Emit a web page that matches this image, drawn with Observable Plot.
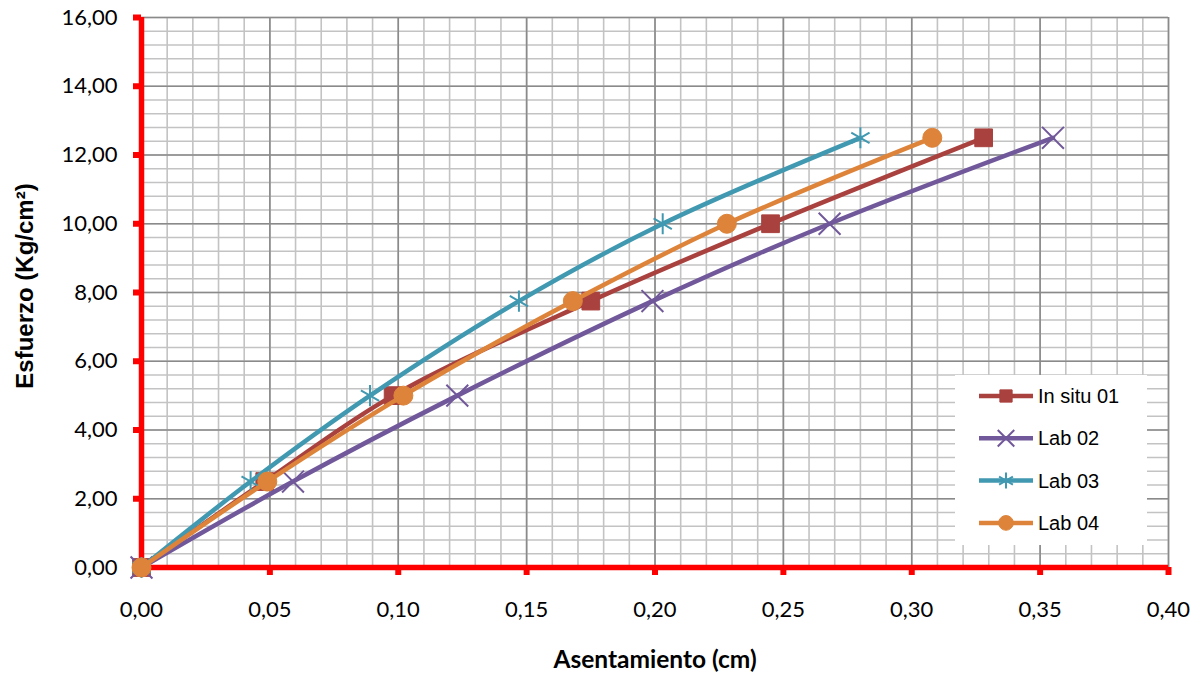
<!DOCTYPE html>
<html>
<head>
<meta charset="utf-8">
<script src="https://cdn.jsdelivr.net/npm/d3@7"></script>
<script src="https://cdn.jsdelivr.net/npm/@observablehq/plot@0.6"></script>
<style>
  html, body { margin: 0; padding: 0; background: #fff; }
  #chart { position: relative; width: 1200px; height: 674px; }
</style>
</head>
<body>
<div id="chart"></div>
<script>
// ---- data ----
const seriesNames = ["In situ 01", "Lab 02", "Lab 03", "Lab 04"];
const esfuerzo = [0, 2.5, 5.0, 7.75, 10.0, 12.5];
const insitu01 = [0, 0.048, 0.098, 0.175, 0.245, 0.328];
const lab02    = [0, 0.059, 0.123, 0.199, 0.268, 0.355];
const lab03    = [0, 0.0425, 0.089, 0.147, 0.203, 0.280];
const lab04    = [0, 0.049, 0.102, 0.168, 0.228, 0.308];
const xTicks = [0, 0.05, 0.10, 0.15, 0.20, 0.25, 0.30, 0.35, 0.40];
const yTicks = [0, 2, 4, 6, 8, 10, 12, 14, 16];
const xMinor = d3.range(0, 41).map(i => i / 100);
const yMinor = d3.range(0, 41).map(i => i * 0.4);
const colors = ["#A9413E", "#71589A", "#4099B0", "#DD843A"];
const symbols = ["square", "times", "asterisk", "circle"];

const seriesX = [insitu01, lab02, lab03, lab04];
const rows = [];
seriesX.forEach((xs, s) => xs.forEach((x, i) => rows.push({serie: seriesNames[s], x, y: esfuerzo[i]})));

const fmt = d => d3.format(".2f")(d).replace(".", ",");

const marks = [
  Plot.ruleX(xMinor, {stroke: "#c3c3c3", strokeWidth: 1.6}),
  Plot.ruleY(yMinor, {stroke: "#c3c3c3", strokeWidth: 1.6}),
  Plot.ruleX(xTicks, {stroke: "#8a8a8a", strokeWidth: 1.6}),
  Plot.ruleY(yTicks, {stroke: "#8a8a8a", strokeWidth: 1.6}),
  Plot.axisY({ticks: yTicks, tickSize: 8, tickPadding: 16, stroke: "red", strokeWidth: 6, fill: "#000", tickFormat: fmt, label: null}),
  Plot.axisX({ticks: xTicks, tickSize: 8, tickPadding: 26, stroke: "red", strokeWidth: 6, fill: "#000", tickFormat: fmt, label: null}),
  Plot.ruleX([0], {stroke: "red", strokeWidth: 5.5}),
  Plot.ruleY([0], {stroke: "red", strokeWidth: 5.5})
];
seriesNames.forEach((name, s) => {
  const d = rows.filter(r => r.serie === name);
  marks.push(Plot.line(d, {x: "x", y: "y", stroke: colors[s], strokeWidth: 4.5, curve: "catmull-rom"}));
  const filled = symbols[s] === "square" || symbols[s] === "circle";
  marks.push(Plot.dot(d, {
    x: "x", y: "y", symbol: () => symbols[s],
    r: symbols[s] === "square" ? 10 : symbols[s] === "circle" ? 9.5 : 10,
    fill: filled ? colors[s] : "none",
    stroke: colors[s], strokeWidth: filled ? 1 : 2
  }));
});

const plot = Plot.plot({
  width: 1200, height: 674,
  marginLeft: 141, marginRight: 32, marginTop: 17, marginBottom: 107,
  x: {domain: [0, 0.4]},
  y: {domain: [0, 16]},
  symbol: {type: "identity"},
  style: {fontFamily: "Lato", fontSize: "22px", color: "#000", background: "#fff"},
  marks
});
document.getElementById("chart").appendChild(plot);

// axis titles & legend appended to the same SVG
const svg = d3.select(plot);
svg.append("text")
  .attr("x", 655).attr("y", 668)
  .attr("text-anchor", "middle")
  .style("font-family", "Lato").style("font-weight", "bold").style("font-size", "24.5px")
  .text("Asentamiento (cm)");
svg.append("text")
  .attr("transform", "translate(33,286) rotate(-90)")
  .attr("text-anchor", "middle")
  .style("font-family", "'Liberation Sans', Arial").style("font-weight", "bold").style("font-size", "24px")
  .text("Esfuerzo (Kg/cm²)");

const lg = svg.append("g");
lg.append("rect").attr("x", 955).attr("y", 375).attr("width", 192).attr("height", 170).attr("fill", "#fff");
const symMap = {square: d3.symbolSquare, times: d3.symbolTimes, asterisk: d3.symbolAsterisk, circle: d3.symbolCircle};
seriesNames.forEach((name, s) => {
  const cy = 396 + s * 42.3;
  lg.append("line").attr("x1", 979).attr("x2", 1033).attr("y1", cy).attr("y2", cy)
    .attr("stroke", colors[s]).attr("stroke-width", 4.5);
  const filled = symbols[s] === "square" || symbols[s] === "circle";
  const size = symbols[s] === "square" ? 150 : symbols[s] === "circle" ? 170 : 180;
  lg.append("path").attr("d", d3.symbol(symMap[symbols[s]], size)())
    .attr("transform", `translate(1006,${cy})`)
    .attr("fill", filled ? colors[s] : "none")
    .attr("stroke", colors[s]).attr("stroke-width", filled ? 1 : 2);
  lg.append("text").attr("x", 1038).attr("y", cy).attr("dy", "0.35em")
    .attr("text-anchor", "start")
    .style("font-family", "'Liberation Sans', Arial").style("font-size", "20px")
    .attr("fill", "#000").text(name);
});
</script>
</body>
</html>
